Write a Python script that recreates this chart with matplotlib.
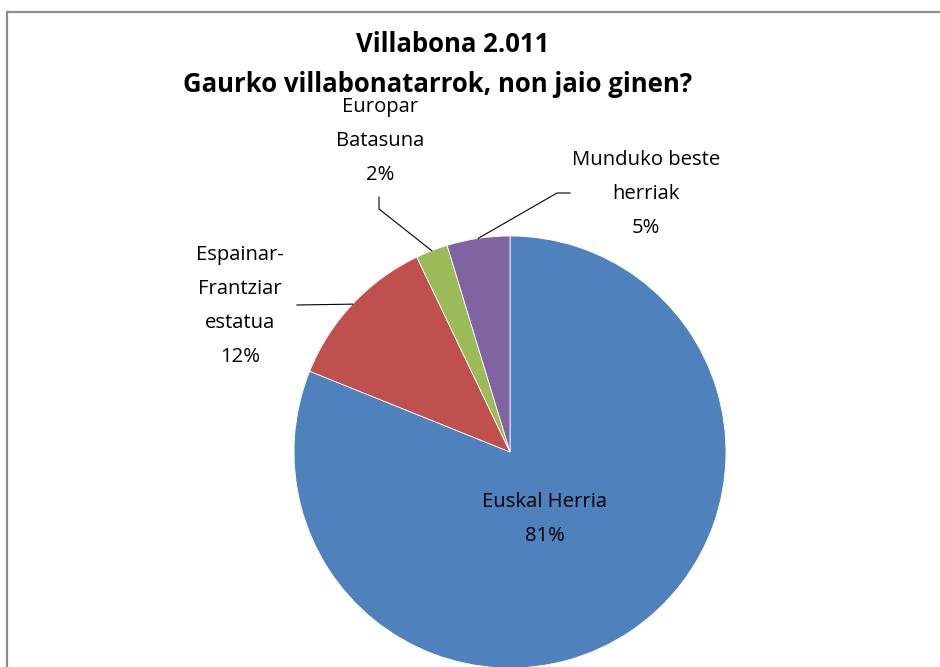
import numpy as np
import matplotlib
matplotlib.use("Agg")
import matplotlib.pyplot as plt
from matplotlib.patches import Rectangle

# Data
categories = ["Euskal Herria", "Espainar-\nFrantziar\nestatua", "Europar\nBatasuna", "Munduko beste\nherriak"]
values = [81.1, 11.8, 2.4, 4.7]
pct_labels = ["81%", "12%", "2%", "5%"]
colors = ["#4F81BD", "#C0504D", "#9BBB59", "#8064A2"]
title_lines = ["Villabona 2.011", "Gaurko villabonatarrok, non jaio ginen?"]

W, H = 940, 667
fig = plt.figure(figsize=(W / 100, H / 100), dpi=100)
ax = fig.add_axes([0, 0, 1, 1])
ax.set_xlim(0, W)
ax.set_ylim(0, H)
ax.set_aspect("equal")
ax.axis("off")

cx, cy, R = 510, H - 452, 216
wedges, _ = ax.pie(values, colors=colors, startangle=90, counterclock=False,
                   center=(cx, cy), radius=R, frame=True,
                   wedgeprops=dict(linewidth=0.6, edgecolor="white"))
ax.set_xlim(0, W)
ax.set_ylim(0, H)
ax.axis("off")

font = "Open Sans"
fs = 14.6
ls = 1.95

# Label placement (text centre) and leader line bends
label_pos = [(545, H - 519), (240, H - 306), (380, H - 141), (646, H - 194)]
bends = [None, [(297, H - 305)], [(379, H - 197), (379, H - 209)], [(570, H - 193), (557, H - 193)]]

for i, w in enumerate(wedges):
    txt = categories[i] + "\n" + pct_labels[i]
    x, y = label_pos[i]
    ax.text(x, y, txt, ha="center", va="center", fontsize=fs, family=font,
            linespacing=ls, color="black")
    if bends[i] is not None:
        mid = np.deg2rad((w.theta1 + w.theta2) / 2)
        ex, ey = cx + R * np.cos(mid), cy + R * np.sin(mid)
        pts = bends[i] + [(ex, ey)]
        xs, ys = zip(*pts)
        ax.plot(xs, ys, color="black", lw=0.8)

ax.text(453, H - 45, title_lines[0], ha="center", va="center", fontsize=18.5,
        family=font, fontweight="bold")
ax.text(438, H - 85, title_lines[1], ha="center", va="center", fontsize=18.5,
        family=font, fontweight="bold")

ax.add_patch(Rectangle((7, -20), 1000, H - 11.5 + 20, fill=False,
                       edgecolor="#8c8c8c", lw=1.6, clip_on=False))

fig.savefig("out.png", dpi=100)
